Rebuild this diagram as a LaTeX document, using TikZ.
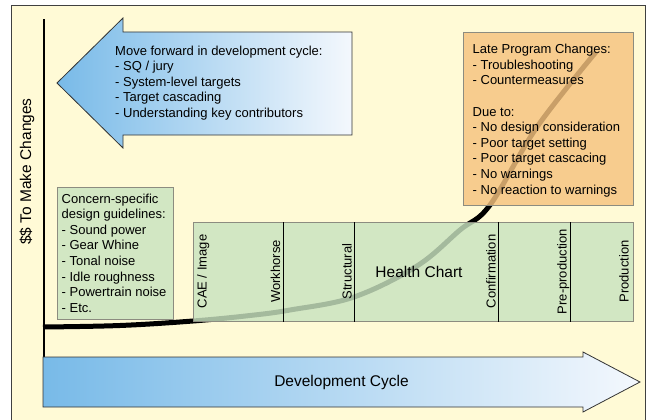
\documentclass[tikz,border=0pt]{standalone}
\usepackage{fontspec}
\setmainfont{Liberation Sans}
\usetikzlibrary{positioning}

\definecolor{chartbg}{HTML}{FFFAD6}
\definecolor{guidegreen}{RGB}{201,227,192}
\definecolor{lateorange}{RGB}{246,195,127}
\definecolor{cycleblue}{HTML}{78BAE8}
\definecolor{cyclewhite}{HTML}{F4F8FD}
\definecolor{boxline}{HTML}{8C8C80}

\tikzset{
  listtext/.style={align=left, inner sep=0pt, font=\fontsize{13}{15.6}\selectfont},
  softbox/.style={draw=boxline, line width=0.8pt, fill opacity=0.82, text opacity=1, inner sep=0pt, anchor=north west},
  stagelabel/.style={rotate=90, anchor=base, inner sep=0pt, font=\fontsize{13}{15.6}\selectfont},
  bigtext/.style={inner sep=0pt, anchor=base, font=\fontsize{15.5}{18}\selectfont},
  bigarrow/.style={left color=cycleblue, right color=cyclewhite, draw=black!80, line width=0.8pt},
}

\begin{document}
\begin{tikzpicture}[x=1pt, y=-1pt]

  % Background and axis
  \useasboundingbox (0,0) rectangle (648,420);
  \draw[black!75, line width=1pt, fill=chartbg] (11,6) rectangle (645,430);
  \coordinate (origin) at (44,357);
  \coordinate (ytop) at (44,19);
  \draw[line width=2pt] (origin) -- (ytop);
  \node[bigtext, rotate=90] (ylabel) at (31,171.5) {\$\$ To Make Changes};

  % Arrows
  \shadedraw[bigarrow] (57,83) -- (123,18) -- (123,32) -- (352,32) -- (352,135)
    -- (123,135) -- (123,148) -- cycle;
  \shadedraw[bigarrow] (43,357) -- (583,357) -- (583,352) -- (640,382) -- (583,412)
    -- (583,407) -- (43,407) -- cycle;
  \node[listtext, anchor=north west] (forwardtext) at (115,45.5)
    {Move forward in development cycle:\\- SQ / jury\\- System-level targets\\- Target cascading\\- Understanding key contributors};
  \node[bigtext] (cycletitle) at (341.5,386) {Development Cycle};

  % Cost curve
  \draw[line width=5pt] plot[smooth, tension=0.6] coordinates
    {(43,327) (120,325.5) (193,321) (250,315.5) (290,310) (354,297)
     (417,266) (460,230) (490,205) (537,127) (596,52)};

  % Boxes
  \node[softbox, fill=guidegreen, minimum width=116pt, minimum height=132pt] (guide) at (57,187) {};
  \node[softbox, fill=lateorange, minimum width=170pt, minimum height=173pt] (late) at (463,32) {};
  \node[softbox, fill=guidegreen, minimum width=440pt, minimum height=99pt] (health) at (193,222) {};
  \foreach \dx in {90,161,305,377}
    \draw[line width=0.8pt] ([xshift=\dx pt]health.north west) -- ([xshift=\dx pt]health.south west);

  \node[listtext, below right=6.4pt and 4.5pt of guide.north west] (guidetext)
    {Concern-specific\\design guidelines:\\- Sound power\\- Gear Whine\\- Tonal noise\\- Idle roughness\\- Powertrain noise\\- Etc.};
  \node[listtext, below right=12pt and 9.5pt of late.north west] (latetext)
    {Late Program Changes:\\- Troubleshooting\\- Countermeasures\\[15.6pt]Due to:\\- No design consideration\\- Poor target setting\\- Poor target cascacing\\- No warnings\\- No reaction to warnings};

  % Health chart stages
  \node[stagelabel] (cae) at (206.5,271.5) {CAE / Image};
  \node[stagelabel] (workhorse) at (280,271.5) {Workhorse};
  \node[stagelabel] (structural) at (351.5,271.5) {Structural};
  \node[bigtext] (healthtitle) at (419,277) {Health Chart};
  \node[stagelabel] (confirmation) at (495.5,271.5) {Confirmation};
  \node[stagelabel] (preproduction) at (566.5,271.5) {Pre-production};
  \node[stagelabel] (production) at (628.5,271.5) {Production};

\end{tikzpicture}
\end{document}
